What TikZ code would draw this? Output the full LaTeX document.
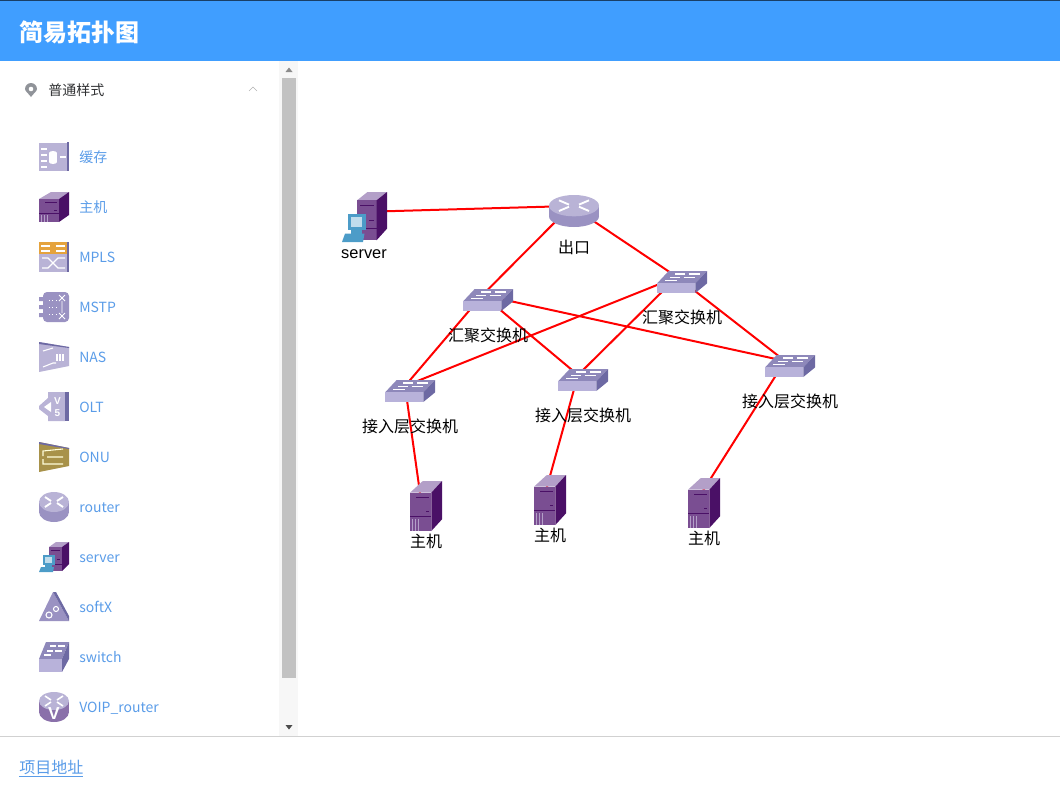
\documentclass[tikz,border=0pt]{standalone}
\usepackage{fontspec}
\usepackage{xcolor}
\setmainfont{Noto Sans CJK SC}
\newfontfamily\canvasfont{Liberation Sans}
\newfontfamily\cjkfont{Noto Sans CJK SC}
\usetikzlibrary{positioning}
\definecolor{cblue}{HTML}{409EFF}
\definecolor{clink}{HTML}{5A9CE8}
\definecolor{ctext}{HTML}{303133}
\definecolor{cpin}{HTML}{909399}
\definecolor{chosttop}{HTML}{B39FC8}
\definecolor{chostfront}{HTML}{7A4E92}
\definecolor{chostside}{HTML}{4A1066}
\definecolor{cswtop}{HTML}{8E88BA}
\definecolor{cswfront}{HTML}{B8B2DA}
\definecolor{cswside}{HTML}{6D69A3}
\definecolor{cbody}{HTML}{9A92C2}
\definecolor{clight}{HTML}{B9B3D6}
\definecolor{corange}{HTML}{E5A33D}
\definecolor{cgold}{HTML}{A8924A}
\definecolor{cscreen}{HTML}{4C9CC8}
\tikzset{
  hostdev/.pic={
    \fill[chosttop] (0,7) -- (12,0) -- (30,0) -- (20,7) -- cycle;
    \fill[chostfront] (0,7) rectangle (20,30);
    \fill[chostside] (20,7) -- (30,0) -- (30,23) -- (20,30) -- cycle;
    \draw[chostside, line width=.6pt] (0,21) -- (20,21) (6,10) -- (18,10) (15,18) -- (18,18);
    \draw[chosttop, line width=.4pt] (2,23) -- (2,30) (5,23) -- (5,30) (8,23) -- (8,30);
  },
  routerdev/.pic={
    \fill[cbody] (15,20) ellipse [x radius=15, y radius=10];
    \fill[cbody] (0,10) rectangle (30,20);
    \fill[clight] (15,10) ellipse [x radius=15, y radius=10];
    \draw[white, line width=1.4pt] (6,5) -- (12,9) (24,5) -- (18,9) (6,15) -- (12,11) (24,15) -- (18,11);
  },
  switchdev/.pic={
    \fill[cswtop] (7,0) -- (30,0) -- (23,17) -- (0,17) -- cycle;
    \fill[cswfront] (0,17) rectangle (23,30);
    \fill[cswside] (23,17) -- (30,0) -- (30,17) -- (23,30) -- cycle;
    \draw[white, line width=1pt] (11,4) -- (17,4) (19,4) -- (26,4) (8,9) -- (14,9) (16,9) -- (23,9) (5,13) -- (12,13);
  },
  serverdev/.pic={
    \fill[chosttop] (10,5) -- (17,0) -- (30,0) -- (23,5) -- cycle;
    \fill[chostfront] (10,5) rectangle (23,29);
    \fill[chostside] (23,5) -- (30,0) -- (30,22) -- (23,29) -- cycle;
    \draw[chostside, line width=.5pt] (12,8) -- (21,8) (18,17) -- (21,17) (16,22) -- (23,22);
    \fill[cscreen] (4,13) rectangle (16,23);
    \fill[white!65!cscreen] (6,15) rectangle (13,21);
    \fill[cscreen] (6,23) rectangle (13,25);
    \fill[cscreen] (2,25) -- (15,25) -- (14,30) -- (0,30) -- cycle;
  },
  cachedev/.pic={
    \fill[clight] (0,1) rectangle (28,29);
    \fill[cswside] (28,0) rectangle (30,29);
    \fill[white] (10,11) rectangle (18,20);
    \fill[white] (14,20) ellipse [x radius=4, y radius=2];
    \fill[white] (14,11) ellipse [x radius=4, y radius=2];
    \draw[white, line width=.9pt] (2,7) -- (8,7) (2,13) -- (8,13) (2,19) -- (8,19) (2,25) -- (8,25) (21,15) -- (27,15);
  },
  mplsdev/.pic={
    \fill[corange] (0,0) rectangle (28,12);
    \fill[clight] (0,12) rectangle (28,30);
    \fill[cswside] (28,0) rectangle (30,30);
    \draw[white, line width=.8pt] (2,4) -- (11,4) (17,4) -- (26,4) (2,9) -- (11,9) (17,9) -- (26,9);
    \draw[white, line width=.8pt] (3,16) -- (9,16) -- (19,26) -- (26,26) (3,26) -- (9,26) -- (19,16) -- (26,16);
  },
  mstpdev/.pic={
    \fill[cbody] (0,5) rectangle (4,9) (0,13) rectangle (4,17) (0,21) rectangle (4,25);
    \fill[cbody, rounded corners=3pt] (4,0) rectangle (30,30);
    \draw[white, line width=.7pt] (20,3) -- (26,9) (26,3) -- (20,9) (20,21) -- (26,27) (26,21) -- (20,27) (23,9) -- (23,21);
    \draw[white, line width=.6pt, dotted] (10,8) -- (18,8) (10,15) -- (18,15) (10,22) -- (18,22);
  },
  nasdev/.pic={
    \fill[clight] (0,0) -- (30,5) -- (30,24) -- (0,30) -- cycle;
    \fill[cswside] (0,0) -- (30,5) -- (30,6) -- (0,2) -- cycle;
    \draw[white, line width=.8pt] (4,9) -- (14,6) (4,25) -- (14,21) -- (17,21);
    \draw[white, line width=.8pt] (18,12) -- (18,19) (21,12) -- (21,19) (24,12) -- (24,19);
  },
  oltdev/.pic={
    \fill[clight] (0,14) -- (9,6) -- (9,0) -- (26,0) -- (26,29) -- (9,29) -- (9,24) -- (0,17) -- cycle;
    \fill[cswside] (26,0) -- (30,0) -- (30,29) -- (26,29) -- cycle;
    \fill[white] (5,15) -- (12,10) -- (12,20) -- cycle;
    \node[white, font=\canvasfont\bfseries, scale=.75, inner sep=0] at (18.5,9) {V};
    \node[white, font=\canvasfont\bfseries, scale=.75, inner sep=0] at (18.5,21) {5};
  },
  onudev/.pic={
    \fill[cgold] (0,0) -- (30,6) -- (30,24) -- (0,30) -- cycle;
    \fill[cswside] (0,0) -- (30,6) -- (30,7) -- (0,2) -- cycle;
    \draw[white!85!yellow, line width=.8pt] (4,14) -- (4,9) -- (24,7) (4,17) -- (4,22) -- (24,22) (8,15) -- (24,15);
  },
  softxdev/.pic={
    \fill[cbody] (14,0) -- (30,29) -- (0,29) -- cycle;
    \fill[cswside] (14,0) -- (17,0) -- (30,24) -- (30,29) -- cycle;
    \draw[white, line width=.8pt] (10,23) circle [radius=3] (17,17) circle [radius=2.5];
  },
  voipdev/.pic={
    \fill[chostfront!50!cbody] (15,20) ellipse [x radius=15, y radius=10];
    \fill[chostfront!50!cbody] (0,10) rectangle (30,20);
    \fill[clight] (15,9) ellipse [x radius=15, y radius=9];
    \draw[white, line width=1.2pt] (6,4) -- (12,8) (24,4) -- (18,8) (6,14) -- (12,10) (24,14) -- (18,10);
    \node[white, font=\canvasfont\bfseries, scale=1.3, inner sep=0] at (15,22) {V};
  }
}
\begin{document}
\begin{tikzpicture}[
    x=.75pt, y=-.75pt,
    devnode/.style={inner sep=0, minimum size=0pt},
    linkline/.style={red, line width=1.5pt},
    devlabel/.style={inner sep=0, font=\cjkfont\fontsize{12}{12}\selectfont, text=black},
    itemlabel/.style={anchor=base west, inner sep=0, font=\fontsize{10.5}{12}\selectfont, text=clink}
  ]
  \useasboundingbox (0,0) rectangle (1060,796);
  % page frame
  \fill[cblue] (0,0) rectangle (1060,61);
  \fill[cblue!40!black] (0,0) rectangle (1060,1);
  \node[anchor=west, inner sep=0, text=white, font=\bfseries\fontsize{18}{18}\selectfont] (title) at (19,32) {简易拓扑图};
  \fill[black!3] (279,61) rectangle (298,737);
  \fill[black!24] (282,78) rectangle (296,678);
  \fill[black!45] (285.5,72) -- (292.5,72) -- (289,67.5) -- cycle;
  \fill[black!70] (285.5,725) -- (292.5,725) -- (289,729.5) -- cycle;
  \draw[black!18, line width=.75pt] (0,736.5) -- (1060,736.5);
  \node[anchor=base west, inner sep=0, text=clink, font=\fontsize{12}{12}\selectfont] (footer) at (19,773) {\underline{项目地址}};
  % menu head
  \fill[cpin] (31,97) .. controls (28,93) and (25,91) .. (25,89) .. controls (25,85.5) and (28,83) .. (31,83)
    .. controls (34,83) and (37,85.5) .. (37,89) .. controls (37,91) and (34,93) .. (31,97) -- cycle;
  \fill[white] (31,89) circle [radius=2.3];
  \node[anchor=west, inner sep=0, text=ctext, font=\fontsize{10.5}{12}\selectfont] (menu) at (48,90) {普通样式};
  \draw[black!30, line width=.5pt] (249,91) -- (253,87) -- (257,91);
  % menu items
  \foreach \i/\icon/\txt in {0/cachedev/缓存, 1/hostdev/主机, 2/mplsdev/MPLS, 3/mstpdev/MSTP, 4/nasdev/NAS, 5/oltdev/OLT,
      6/onudev/ONU, 7/routerdev/router, 8/serverdev/server, 9/softxdev/softX, 10/switchdev/switch, 11/voipdev/VOIP\_router} {
    \pic at (39,{142+50*\i}) {\icon};
    \node[itemlabel] (item\i) at (79,{162+50*\i}) {\txt};
  }
  % topology
  \node[devnode] (srv) at (360,212) {};
  \node[devnode] (exit) at (571,206) {};
  \node[devnode] (agg1) at (482.5,295) {};
  \node[devnode] (agg2) at (677,277) {};
  \node[devnode] (acc1) at (405,386) {};
  \node[devnode] (acc2) at (578,375) {};
  \node[devnode] (acc3) at (785,361) {};
  \node[devnode] (host1) at (421,500) {};
  \node[devnode] (host2) at (545,494) {};
  \node[devnode] (host3) at (699,497) {};
  \foreach \a/\b in {srv/exit, exit/agg1, exit/agg2, agg1/acc1, agg1/acc2, agg1/acc3, agg2/acc1, agg2/acc2, agg2/acc3,
      acc1/host1, acc2/host2, acc3/host3}
    \draw[linkline] (\a.center) -- (\b.center);
  \pic[xscale=1.5, yscale=5/3] at (342,192) {serverdev};
  \pic[xscale=5/3, yscale=32/30] at (549,195) {routerdev};
  \foreach \x/\y in {463/289, 657/271, 385/380, 558/369, 765/355}
    \pic[xscale=5/3, yscale=22/30] at (\x,\y) {switchdev};
  \foreach \x/\y in {410/481, 534/475, 688/478}
    \pic[xscale=32/30, yscale=5/3] at (\x,\y) {hostdev};
  \node[devlabel, anchor=base, font=\canvasfont\fontsize{12.3}{12}\selectfont] (srvlabel) at (364,258) {server};
  \node[devlabel] (exitlabel) at (574,247) {出口};
  \node[devlabel] (agg1label) at (488,335) {汇聚交换机};
  \node[devlabel] (agg2label) at (682,317) {汇聚交换机};
  \node[devlabel] (acc1label) at (410,426) {接入层交换机};
  \node[devlabel] (acc2label) at (583,415) {接入层交换机};
  \node[devlabel] (acc3label) at (790,401) {接入层交换机};
  \node[devlabel] (host1label) at (426,541) {主机};
  \node[devlabel] (host2label) at (550,535) {主机};
  \node[devlabel] (host3label) at (704,538) {主机};
\end{tikzpicture}
\end{document}
